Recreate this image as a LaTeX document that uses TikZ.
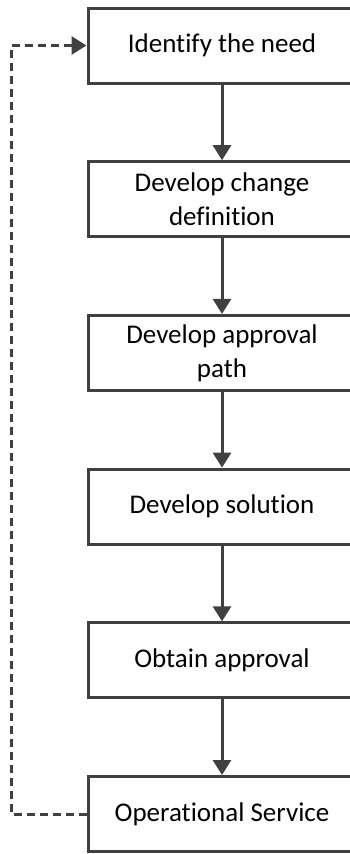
\documentclass[tikz,border=0pt]{standalone}
\usepackage{fontspec}
\setmainfont{Carlito}[Ligatures=NoCommon]
\usetikzlibrary{arrows.meta,positioning}
\definecolor{linegray}{HTML}{404040}
\tikzset{
	%Define standard arrow tip
	>={Triangle[width=18pt,length=15pt]},
	%Define style for process boxes
	stepbox/.style={
		rectangle,
		draw=linegray, line width=3pt,
		minimum width=268pt,
		minimum height=75pt,
		align=center,
		font=\fontsize{27}{34}\selectfont},
	% Define arrow style
	pil/.style={
		->,
		draw=linegray, line width=3pt},
	% Define feedback style
	backline/.style={
		->,
		draw=linegray, line width=3pt,
		dash pattern=on 8pt off 5pt}
}
\begin{document}
\begin{tikzpicture}[node distance=75.7pt]
	
	\useasboundingbox (0pt,0pt) rectangle (350pt,-854pt);
	
	\node[stepbox] (need) at (222pt,-45.5pt) {Identify the need};
	\node[stepbox, below =of need] (define) {Develop change\\definition};
	\node[stepbox, below =of define] (path) {Develop approval\\path};
	\node[stepbox, below =of path] (solution) {Develop solution};
	\node[stepbox, below =of solution] (approval) {Obtain approval};
	\node[stepbox, below =of approval] (ops) {Operational Service};
	
	\draw[pil] (need) -- (define);
	\draw[pil] (define) -- (path);
	\draw[pil] (path) -- (solution);
	\draw[pil] (solution) -- (approval);
	\draw[pil] (approval) -- (ops);
	
	% feedback from service back to the need
	\draw[backline] (ops.west) -- ++(-75.5pt,0) |- (need.west);
	
\end{tikzpicture}
\end{document}
